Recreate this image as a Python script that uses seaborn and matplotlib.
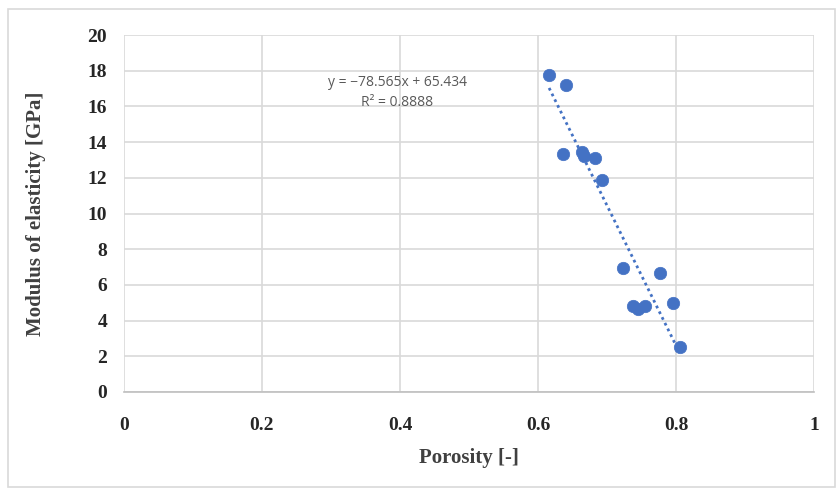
"""
Modulus of elasticity vs porosity, scatter with linear trendline.
"""

import numpy as np
import pandas as pd
import matplotlib
matplotlib.use("Agg")
import matplotlib.pyplot as plt
from matplotlib.patches import Rectangle
import seaborn as sns

# --- Data ---
porosity = [0.616, 0.641, 0.636, 0.663, 0.666, 0.682, 0.692,
            0.723, 0.777, 0.738, 0.745, 0.755, 0.795, 0.805]
modulus = [17.76, 17.2, 13.32, 13.46, 13.2, 13.09, 11.88,
           6.93, 6.68, 4.83, 4.63, 4.82, 5.0, 2.5]

# trendline as printed on the chart
slope = -78.565
intercept = 65.434
r2 = 0.8888

x_ticks = [0, 0.2, 0.4, 0.6, 0.8, 1]
x_tick_labels = ["0", "0.2", "0.4", "0.6", "0.8", "1"]
y_ticks = list(range(0, 21, 2))

df = pd.DataFrame({"porosity": porosity, "modulus": modulus})

BLUE = "#4472C4"

sns.set_theme(style="white")
plt.rcParams["font.family"] = ["Liberation Serif", "DejaVu Serif"]

fig = plt.figure(figsize=(8.36, 4.88), dpi=100)
ax = fig.add_axes([0.148, 0.197, 0.826, 0.731])

# light frame around the whole chart area (like the Excel chart border)
fig.patches.append(Rectangle((0.009, 0.002), 0.99, 0.98, transform=fig.transFigure,
                             fill=False, edgecolor="#d9d9d9", linewidth=1.2))

sns.scatterplot(data=df, x="porosity", y="modulus", ax=ax,
                color=BLUE, s=80, edgecolor=BLUE, linewidth=0.5, zorder=3)

# dotted linear trendline over the data range
xs = np.linspace(df["porosity"].min(), df["porosity"].max(), 50)
ax.plot(xs, slope * xs + intercept, linestyle=(0, (1, 1.3)),
        color=BLUE, linewidth=2.0, zorder=2)

ax.text(0.396, 16.8, f"y = \u2212{abs(slope):.3f}x + {intercept:.3f}\nR\u00b2 = {r2:.4f}",
        ha="center", va="center", fontsize=10, color="#595959",
        family=["Open Sans", "DejaVu Sans"], linespacing=1.45)

ax.set_xlim(0, 1)
ax.set_ylim(0, 20)
ax.set_xticks(x_ticks)
ax.set_xticklabels(x_tick_labels)
ax.set_yticks(y_ticks)
ax.grid(True, color="#d9d9d9", linewidth=1.2)
ax.set_axisbelow(True)
for side in ["top", "right", "left"]:
    ax.spines[side].set_visible(False)
ax.spines["bottom"].set_color("#bfbfbf")
ax.spines["bottom"].set_linewidth(1.2)

ax.tick_params(axis="both", length=0, labelsize=14, labelcolor="#262626")
ax.tick_params(axis="x", pad=18)
ax.tick_params(axis="y", pad=12)
for lbl in ax.get_xticklabels() + ax.get_yticklabels():
    lbl.set_fontweight("bold")

ax.set_xlabel("Porosity [-]", fontsize=15, fontweight="bold", color="#404040", labelpad=10)
ax.set_ylabel("Modulus of elasticity [GPa]", fontsize=15, fontweight="bold",
              color="#404040", labelpad=30)

fig.savefig("out.png", dpi=100)
plt.close(fig)
